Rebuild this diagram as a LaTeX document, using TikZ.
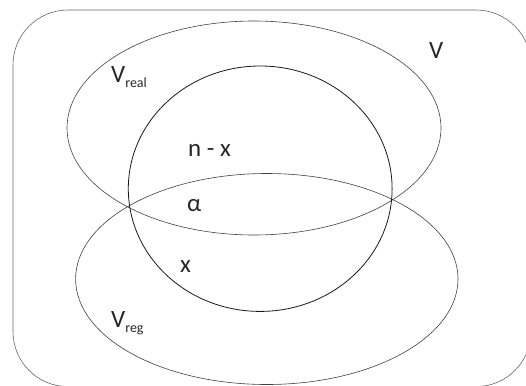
\documentclass[tikz,border=0pt]{standalone}
\usepackage{fontspec}
\setmainfont{Carlito}
\tikzset{
  lbl/.style={inner sep=0pt, anchor=base west, font=\fontsize{25}{28}\selectfont, text=black!85},
  setline/.style={draw=black!75, line width=0.6bp},
  midline/.style={draw=black!90, line width=0.8bp},
  outerline/.style={draw=black!60, line width=0.6bp},
}
\newcommand{\subtxt}[1]{\raisebox{-5bp}{\fontsize{14}{16}\selectfont #1}}
\begin{document}
\begin{tikzpicture}[x=1bp,y=-1bp]
\useasboundingbox (0,0) rectangle (526,385);
\clip (0,0) rectangle (526,385);
\draw[outerline, rounded corners=55bp] (13,10) rectangle (531,386.6);
\draw[setline] (254,128) ellipse [x radius=187, y radius=107];
\draw[setline] (266.8,279) ellipse [x radius=191.2, y radius=105.5];
\draw[midline] (260.2,188.7) ellipse [x radius=131.9, y radius=122.7];
\node[lbl] (vall) at (429,58) {V};
\node[lbl] (vreal) at (111,82) {V\subtxt{real}};
\node[lbl] (vreg) at (111,327) {V\subtxt{reg}};
\node[lbl] (nx) at (188,156) {n - x};
\node[lbl] (alpha) at (187,211) {α};
\node[lbl] (xx) at (180,272) {x};
\end{tikzpicture}
\end{document}
